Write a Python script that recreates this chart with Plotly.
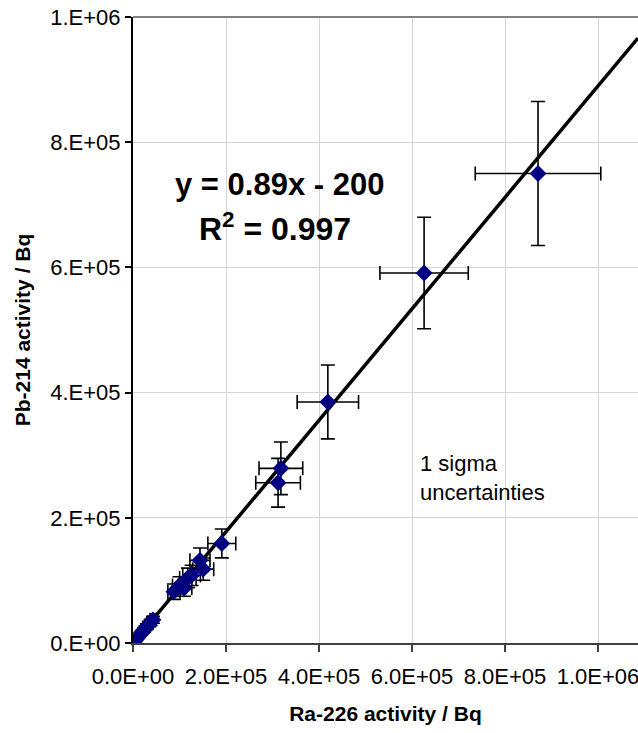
import plotly.graph_objects as go

# Ra-226 activity (x) and Pb-214 activity (y), Bq, with 1-sigma uncertainties
ra226 = [500, 1500, 3000, 5000, 7000, 9500, 12000, 15000, 18000, 21000, 24000, 27000, 30000, 34000, 38000, 43000,
         88000, 100000, 110000, 118000, 126000, 144000, 151000,
         191000, 312000, 318000, 419000, 626000, 871000]
pb214 = [400, 1300, 2600, 4400, 6200, 8300, 10500, 13000, 15800, 18500, 21000, 24000, 26500, 30000, 33000, 37000,
         82000, 92000, 88000, 104000, 108000, 132000, 118000,
         159000, 256000, 279000, 385000, 591000, 750000]
ra226_err = [75, 225, 450, 750, 1050, 1400, 1800, 2250, 2700, 3150, 3600, 4000, 4500, 5100, 5700, 6400,
             13000, 15000, 16500, 17700, 19000, 21600, 22600,
             30000, 48000, 47000, 66000, 95000, 135000]
pb214_err = [60, 200, 400, 660, 930, 1250, 1600, 1950, 2400, 2800, 3200, 3600, 4000, 4500, 5000, 5500,
             12300, 13800, 13200, 15600, 16200, 19800, 17700,
             23000, 39000, 42000, 59000, 89000, 115000]

slope = 0.89
intercept = -200
r_squared = 0.997

x_tickvals = [0, 200000, 400000, 600000, 800000, 1000000]
x_ticktext = ["0.0E+00", "2.0E+05", "4.0E+05", "6.0E+05", "8.0E+05", "1.0E+06"]
y_tickvals = [0, 200000, 400000, 600000, 800000, 1000000]
y_ticktext = ["0.E+00", "2.E+05", "4.E+05", "6.E+05", "8.E+05", "1.E+06"]

x_max = 1086000
y_max = 1000000

FONT = "Liberation Sans, Arial, sans-serif"

fig = go.Figure()

fig.add_trace(go.Scatter(
    x=[0, x_max], y=[intercept, slope * x_max + intercept],
    mode="lines", line=dict(color="black", width=3.5),
    showlegend=False, hoverinfo="skip"))

fig.add_trace(go.Scatter(
    x=ra226, y=pb214, mode="markers",
    marker=dict(symbol="diamond", size=13, color="#000080"),
    error_x=dict(type="data", array=ra226_err, color="black", thickness=1.6, width=7),
    error_y=dict(type="data", array=pb214_err, color="black", thickness=1.6, width=7),
    showlegend=False))

fig.add_annotation(x=316000, y=732000, xref="x", yref="y",
                   text="<b>y = %.2fx - %d</b>" % (slope, -intercept),
                   showarrow=False, font=dict(family=FONT, size=31, color="black"))
fig.add_annotation(x=306000, y=665000, xref="x", yref="y",
                   text="<b>R<sup>2</sup> = %.3f</b>" % r_squared,
                   showarrow=False, font=dict(family=FONT, size=32, color="black"))
fig.add_annotation(x=613000, y=263000, xref="x", yref="y",
                   text="1 sigma<br>uncertainties", align="left", xanchor="left",
                   showarrow=False, font=dict(family=FONT, size=22, color="black"))

# top border of plot area
fig.add_shape(type="line", xref="paper", yref="paper", x0=0, x1=1, y0=1, y1=1,
              line=dict(color="#808080", width=2))

fig.update_layout(
    width=638, height=733,
    margin=dict(l=133, r=0, t=17, b=90),
    paper_bgcolor="white", plot_bgcolor="white",
    font=dict(family=FONT, size=22, color="black"),
    xaxis=dict(range=[0, x_max], tickvals=x_tickvals, ticktext=x_ticktext,
               showgrid=True, gridcolor="#d4d4d4", gridwidth=1,
               showline=True, linecolor="#404040", linewidth=2,
               ticks="outside", ticklen=7, tickcolor="#404040", tickwidth=2,
               ticklabelstandoff=6, ticklabeloverflow="allow", zeroline=False,
               title=dict(text="<b>Ra-226 activity / Bq</b>", font=dict(size=21), standoff=18)),
    yaxis=dict(range=[0, y_max], tickvals=y_tickvals, ticktext=y_ticktext,
               showgrid=True, gridcolor="#d4d4d4", gridwidth=1,
               showline=True, linecolor="black", linewidth=2,
               ticks="outside", ticklen=6, tickcolor="black", tickwidth=2,
               zeroline=False,
               title=dict(text="<b>Pb-214 activity / Bq</b>", font=dict(size=21), standoff=14)),
)

fig.write_html("out.html", config={"displayModeBar": False},
               post_script="document.body.style.margin='0';")
